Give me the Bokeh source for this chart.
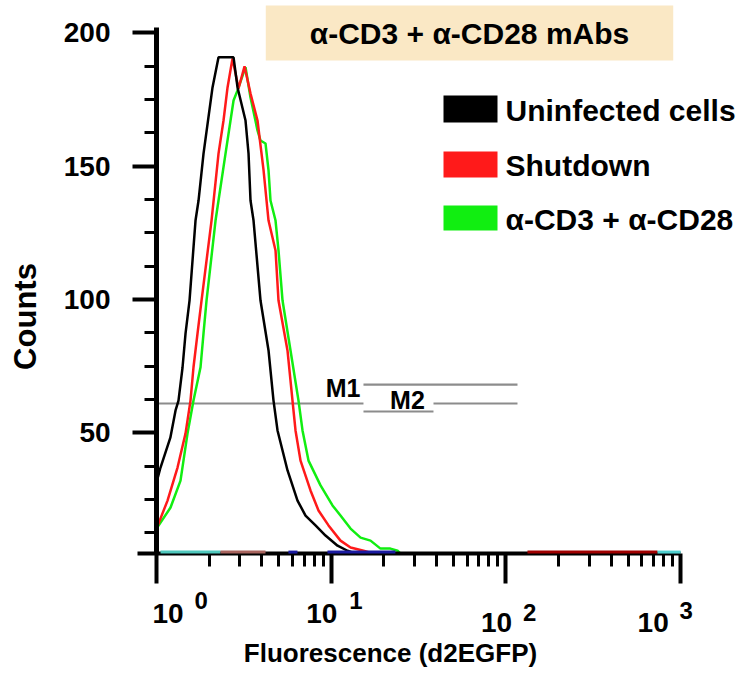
import math
from bokeh.plotting import figure
from bokeh.models import (Range1d, FixedTicker, SingleIntervalTicker, Label,
                          BoxAnnotation, ColumnDataSource)
from bokeh.embed import file_html
from bokeh.resources import INLINE

# ---------------- data ----------------
series_names = ["Uninfected cells", "Shutdown", "\u03b1-CD3 + \u03b1-CD28"]
series_colors = ["#000000", "#ff1a1a", "#11ee11"]

uninf_x = [1.0, 1.054, 1.20, 1.285, 1.336, 1.409, 1.466, 1.545, 1.672, 1.740, 1.858,
           2.092, 2.264, 2.760, 2.909, 3.232, 3.363, 3.452, 3.592, 3.938, 4.377,
           4.674, 4.928, 5.264, 5.623, 6.413, 7.127, 8.131, 9.277, 10.87, 12.40, 13.78]
uninf_y = [31.4, 37.0, 48.2, 58.4, 62.1, 74.5, 87.3, 99.6, 129.6, 137.1, 154.7,
           179.5, 190.8, 190.8, 179.5, 167.1, 154.7, 137.1, 129.6, 99.6, 80.9,
           62.1, 50.9, 43.4, 35.9, 24.6, 19.0, 15.3, 11.5, 7.7, 5.8, 4.7]

shut_x = [1.0, 1.156, 1.319, 1.466, 1.565, 1.628, 1.717, 1.81, 2.065, 2.264, 2.418,
          2.55, 2.723, 2.947, 3.19, 3.452, 3.785, 4.1, 4.377, 4.8, 4.992, 5.62,
          6.003, 6.247, 6.673, 7.611, 8.456, 9.65, 11.30, 12.9, 15.31, 17.46]
shut_y = [14.1, 24.6, 37.0, 49.8, 62.1, 74.6, 87.3, 99.6, 129.6, 154.7, 167.1,
          179.5, 190.4, 179.1, 187.4, 177.2, 167.1, 148.4, 129.6, 118.4, 99.6, 80.9,
          62.1, 50.9, 39.6, 28.4, 20.9, 15.3, 9.6, 7.0, 5.8, 4.7]

stim_x = [1.0, 1.203, 1.372, 1.505, 1.628, 1.786, 1.858, 1.933, 2.177, 2.264, 2.483,
          2.652, 2.76, 2.909, 3.232, 3.452, 3.785, 3.938, 4.206, 4.377, 4.492, 4.8,
          4.992, 5.264, 5.848, 6.498, 6.85, 7.413, 8.686, 10.17, 11.3, 12.9, 14.72,
          16.79, 19.15, 21.83, 23.97, 24.9]
stim_y = [14.1, 22.0, 32.1, 49.8, 62.1, 74.6, 87.3, 99.6, 129.6, 137.1, 154.7,
          167.1, 174.6, 178.4, 187.1, 175.7, 163.4, 159.6, 158.5, 148.4, 137.1, 129.6,
          118.4, 99.6, 80.9, 62.1, 50.9, 39.6, 30.3, 22.8, 19.0, 14.1, 10.7,
          9.6, 6.6, 6.6, 5.8, 4.7]

# coloured zero-level traces lying on the baseline
base_x0 = [1.054, 2.325, 5.69, 9.52, 132.9, 737.6]
base_x1 = [2.325, 4.206, 6.41, 23.3, 737.6, 1000.0]
base_colors = ["#4fc8bd", "#a8645e", "#1a1aa0", "#1a1aa0", "#a00000", "#4fd0d0"]
base_count = 5.3

# marker (gate) bars
gate_x0 = [1.0, 38.5, 15.3, 15.3]
gate_x1 = [15.3, 116.5, 116.5, 38.5]
gate_y = [61.0, 61.0, 68.1, 58.0]
gate_names = ["M1", "M2"]

x_major_ticks = [1, 10, 100, 1000]
x_minor_ticks = [m * d for d in (1, 10, 100) for m in range(2, 10)]
x_exponents = ["0", "1", "2", "3"]
x_axis_bounds = (0.78, 1000)
y_axis_bounds = (4.6, 202)
y_tick_interval = 50

title_text = "\u03b1-CD3 + \u03b1-CD28 mAbs"
x_label = "Fluorescence (d2EGFP)"
y_label = "Counts"

FONT = "Liberation Sans"
W, H = 750, 674

# ---------------- figure ----------------
p = figure(x_axis_type="log",
           x_range=Range1d(0.1279, 2513), y_range=Range1d(-40.6, 212.1),
           width=W, height=H, min_border=0,
           output_backend="svg", toolbar_location=None)
p.outline_line_color = None
p.grid.visible = False
p.background_fill_color = "white"
p.border_fill_color = "white"

xa = p.xaxis[0]
xa.fixed_location = y_axis_bounds[0]
xa.bounds = x_axis_bounds
xa.ticker = FixedTicker(ticks=x_major_ticks, minor_ticks=x_minor_ticks)
xa.major_label_overrides = {t: "" for t in x_major_ticks}
xa.major_label_text_font_size = "10px"
xa.major_label_standoff = 0
xa.axis_line_width = 4
xa.major_tick_line_width = 4
xa.minor_tick_line_width = 3
xa.major_tick_out = 30
xa.major_tick_in = 0
xa.minor_tick_out = 13
xa.minor_tick_in = 0

ya = p.yaxis[0]
ya.fixed_location = x_major_ticks[0]
ya.bounds = y_axis_bounds
ya.ticker = SingleIntervalTicker(interval=y_tick_interval, num_minor_ticks=4)
ya.major_label_text_font = FONT
ya.major_label_text_font_style = "bold"
ya.major_label_text_font_size = "28px"
ya.major_label_text_color = "black"
ya.major_label_standoff = 22
ya.axis_line_width = 5
ya.major_tick_line_width = 4
ya.minor_tick_line_width = 3
ya.major_tick_out = 24
ya.major_tick_in = 0
ya.minor_tick_out = 12
ya.minor_tick_in = 0

# gates
gsrc = ColumnDataSource(dict(x0=gate_x0, x1=gate_x1, y=gate_y))
p.segment(x0="x0", y0="y", x1="x1", y1="y", source=gsrc,
          line_color="#8c8c8c", line_width=2.2)

# histograms
for xs, ys, col in zip([stim_x, shut_x, uninf_x], [stim_y, shut_y, uninf_y],
                       [series_colors[2], series_colors[1], series_colors[0]]):
    p.line(xs, ys, line_color=col, line_width=2.5)

# baseline coloured traces
bsrc = ColumnDataSource(dict(x0=base_x0, x1=base_x1, c=base_colors,
                             y=[base_count] * len(base_x0)))
br = p.segment(x0="x0", y0="y", x1="x1", y1="y", source=bsrc,
               line_color="c", line_width=3)
br.level = "overlay"

TXT = dict(text_font=FONT, text_font_style="bold", text_color="black")

# gate labels
p.add_layout(Label(x=gate_x0[2], y=gate_y[2], text=gate_names[0], text_font_size="25px",
                   text_align="right", text_baseline="middle",
                   x_offset=-3, y_offset=-3, **TXT))
p.add_layout(Label(x=math.sqrt(gate_x0[3] * gate_x1[3]), y=gate_y[3], text=gate_names[1],
                   text_font_size="25px", text_align="center", text_baseline="alphabetic",
                   x_offset=9, y_offset=12, **TXT))

# x tick labels  10^n
ten_dx = [-4, -25, -25, -43]
ten_y = [61, 61, 52, 52]
exp_dx = [38, 18, 17, -1]
exp_y = [74, 74, 62, 64]
for t, e, dx, ty, ex, ey in zip(x_major_ticks, x_exponents, ten_dx, ten_y, exp_dx, exp_y):
    p.add_layout(Label(x=t, y=ty, y_units="screen", text="10", x_offset=dx,
                       text_font_size="28px", text_align="left",
                       text_baseline="alphabetic", **TXT))
    p.add_layout(Label(x=t, y=ey, y_units="screen", text=e, x_offset=ex,
                       text_font_size="24px", text_align="left",
                       text_baseline="alphabetic", **TXT))

# axis labels
p.add_layout(Label(x=390, y=22, x_units="screen", y_units="screen", text=x_label,
                   text_font_size="26px", text_align="center",
                   text_baseline="alphabetic", **TXT))
p.add_layout(Label(x=25, y=H - 316, x_units="screen", y_units="screen", text=y_label,
                   angle=math.pi / 2, text_font_size="31px", text_align="center",
                   text_baseline="middle", **TXT))

# title box
p.add_layout(Label(x=469, y=H - 32.5, x_units="screen", y_units="screen", text=title_text,
                   text_font_size="30px", text_align="center", text_baseline="middle",
                   background_fill_color="#fae8c5",
                   padding=dict(left=44, right=44, top=11, bottom=11), **TXT))

# legend (swatches + labels)
sw_top = [95, 151, 205]
sw_bot = [122, 177, 230]
for name, col, t, b in zip(series_names, series_colors, sw_top, sw_bot):
    p.add_layout(BoxAnnotation(left=443, right=497, top=H - t, bottom=H - b,
                               left_units="screen", right_units="screen",
                               top_units="screen", bottom_units="screen",
                               fill_color=col, fill_alpha=1.0, line_color=None))
    p.add_layout(Label(x=505, y=H - (t + b) / 2 - 1, x_units="screen", y_units="screen",
                       text=name, text_font_size="30px", text_align="left",
                       text_baseline="middle", **TXT))

open("out.html", "w").write(file_html(p, INLINE))
